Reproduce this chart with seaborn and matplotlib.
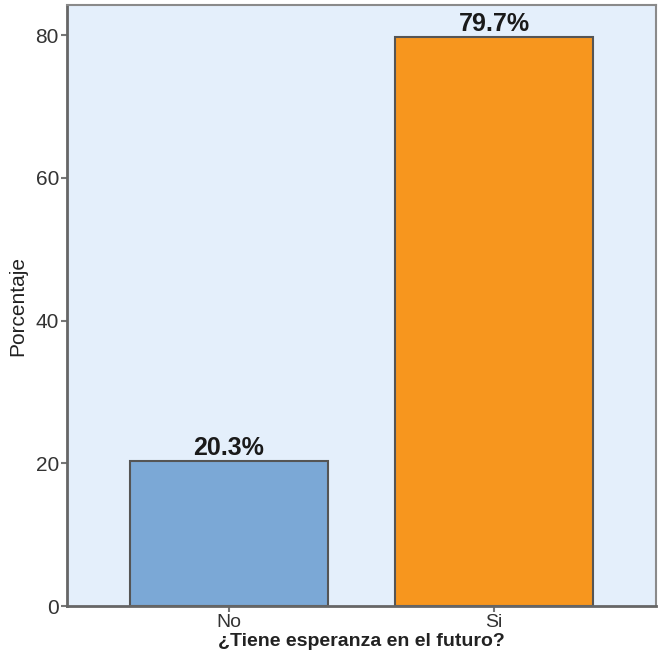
import matplotlib
matplotlib.use("Agg")
import matplotlib.pyplot as plt
import seaborn as sns
import pandas as pd

categorias = ["No", "Si"]
porcentajes = [20.3, 79.7]
colores = ["#7BA8D6", "#F7961E"]

sns.set_style("white")
plt.rcParams['font.family'] = ['Liberation Sans', 'DejaVu Sans']

df = pd.DataFrame({"respuesta": categorias, "pct": porcentajes})

fig = plt.figure(figsize=(6.59, 6.58), dpi=100)
ax = fig.add_axes([0.102, 0.079, 0.893, 0.913])
ax.set_facecolor("#E4EFFB")

sns.barplot(data=df, x="respuesta", y="pct", hue="respuesta", palette=colores,
            saturation=1, width=0.745, edgecolor="#555555", linewidth=1.5,
            legend=False, ax=ax)

for i, v in enumerate(porcentajes):
    ax.text(i, v + 0.2, f"{v}%", ha="center", va="bottom", fontsize=18,
            fontweight="bold", color="#1a1a1a")

ax.set_xlim(-0.61, 1.61)
ax.set_ylim(0, 84.2)
ax.set_yticks([0, 20, 40, 60, 80])
ax.set_ylabel("Porcentaje", fontsize=15, color="#222222", labelpad=6)
ax.set_xlabel("¿Tiene esperanza en el futuro?", fontsize=14, fontweight="bold",
              color="#222222", labelpad=1)
ax.tick_params(axis="y", labelsize=15, pad=2)
ax.tick_params(axis="x", labelsize=14, pad=2)
ax.tick_params(axis="both", colors="#333333", length=4, width=1.5,
               direction="out", left=True, bottom=True, color="#777777")
for s in ax.spines.values():
    s.set_color("#8a8a8a")
    s.set_linewidth(1.5)
for s in ["left", "bottom"]:
    ax.spines[s].set_color("#666666")
    ax.spines[s].set_linewidth(2)

fig.savefig("out.png", dpi=100)
